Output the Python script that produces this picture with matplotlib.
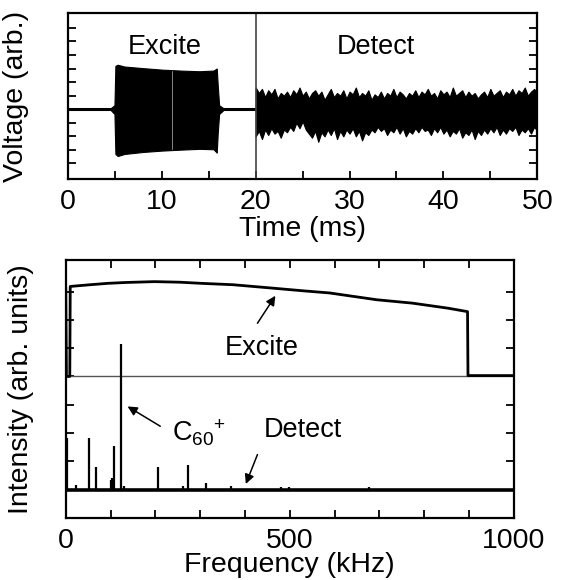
import matplotlib
matplotlib.use("Agg")
import matplotlib.pyplot as plt
import numpy as np

plt.rcParams["font.family"] = ["Liberation Sans", "DejaVu Sans"]
plt.rcParams["mathtext.fontset"] = "custom"
plt.rcParams["mathtext.rm"] = "Liberation Sans"
plt.rcParams["mathtext.it"] = "Liberation Sans:italic"
plt.rcParams["font.size"] = 20.5

# ---- top panel: time-domain signal (ms, arb.) ----
burst_t = [4.6, 4.95, 5.05, 5.3, 6.0, 8.0, 10.0, 12.0, 14.0, 15.5, 15.85, 15.95, 16.1, 16.5]
burst_up = [0.1, 0.3, 3.2, 3.28, 3.15, 3.03, 2.92, 2.85, 2.8, 2.85, 3.0, 1.8, 0.3, 0.1]
burst_lo = [-0.1, -0.35, -3.3, -3.45, -3.3, -3.15, -3.05, -2.98, -2.92, -2.95, -3.2, -1.8, -0.35, -0.1]
burst_gap = 11.1
switch_time = 20.0

detect_t = np.linspace(20, 50, 91)
detect_up = [1.6, 1.2, 1.5, 0.9, 1.4, 1.1, 1.5, 0.8, 1.2, 1.0,
             1.3, 0.9, 1.4, 1.1, 1.6, 1.0, 1.3, 0.8, 1.2, 1.4,
             1.0, 1.3, 0.7, 1.1, 1.5, 0.9, 1.2, 1.0, 1.4, 0.8,
             1.3, 1.1, 1.6, 0.9, 1.2, 1.0, 1.4, 0.7, 1.1, 0.9,
             1.3, 0.8, 1.2, 1.0, 1.5, 0.9, 1.3, 1.1, 0.8, 1.2,
             1.0, 1.4, 0.9, 1.3, 1.1, 1.5, 1.0, 1.2, 0.8, 1.4,
             1.1, 1.3, 0.9, 1.6, 1.0, 1.2, 1.4, 0.9, 1.3, 1.0,
             1.2, 0.8, 1.1, 1.3, 0.9, 1.5, 1.0, 1.2, 1.4, 0.9,
             1.3, 1.1, 1.5, 1.0, 1.4, 1.2, 1.6, 1.0, 1.3, 1.5,
             1.2]
detect_lo = [-2.0, -1.6, -2.2, -1.5, -1.9, -1.4, -1.8, -1.6, -2.1, -1.5,
             -1.7, -1.3, -1.6, -1.0, -1.4, -0.9, -1.5, -1.8, -2.1, -1.6,
             -2.4, -1.7, -2.0, -1.5, -1.9, -1.4, -2.2, -1.6, -2.0, -1.5,
             -1.8, -1.4, -2.0, -1.6, -2.3, -1.7, -1.9, -1.5, -1.7, -1.3,
             -1.6, -1.4, -1.9, -1.5, -1.7, -1.3, -1.8, -1.4, -2.0, -1.6,
             -1.8, -1.4, -1.7, -1.3, -1.6, -1.5, -1.9, -1.4, -1.7, -1.3,
             -1.8, -1.5, -2.0, -1.6, -1.8, -1.4, -2.1, -1.7, -1.9, -1.5,
             -2.2, -1.6, -1.9, -1.5, -1.8, -1.4, -1.7, -1.3, -1.9, -1.5,
             -1.8, -1.4, -1.6, -1.3, -1.9, -1.5, -1.7, -1.4, -1.8, -1.3,
             -1.6]

# ---- bottom panel: spectra (kHz, arb. units) ----
excite_f = [0, 1.5, 9, 10, 54, 94, 134, 198, 254, 302, 374, 462, 534, 589, 694, 774, 854, 897, 898, 1000]
excite_i = [8.1, 5.0, 5.0, 8.18, 8.24, 8.29, 8.32, 8.35, 8.33, 8.29, 8.24, 8.12, 8.02, 7.95, 7.71, 7.59, 7.41, 7.29, 5.03, 5.03]
excite_base = 5.0

detect_base = 1.0
peak_f = [3, 22, 51, 67, 100, 104, 107, 123, 130, 205, 261, 273, 314, 368, 480, 498, 676, 751]
peak_i = [2.83, 1.16, 2.83, 1.8, 1.35, 1.41, 2.55, 6.15, 1.12, 1.8, 1.12, 1.87, 1.24, 1.13, 1.1, 1.1, 1.08, 1.04]

fig = plt.figure(figsize=(5.62, 5.8), dpi=100)
ax1 = fig.add_axes([0.121, 0.691, 0.835, 0.286])
ax2 = fig.add_axes([0.117, 0.107, 0.797, 0.445])

for ax in (ax1, ax2):
    for sp in ax.spines.values():
        sp.set_linewidth(1.6)
    ax.tick_params(direction="in", which="both", length=6, width=1.3, pad=7)

# top panel
ax1.plot([0, burst_t[0]], [0, 0], color="black", lw=2.2)
ax1.plot([burst_t[-1], switch_time], [0, 0], color="black", lw=2.2)
ax1.fill_between(burst_t, burst_lo, burst_up, color="black", lw=0.8, edgecolor="black")
ax1.plot([burst_gap, burst_gap], [-2.9, 2.8], color="#bbbbbb", lw=0.5)
ax1.fill_between(detect_t, detect_lo, detect_up, color="black", lw=0.8, edgecolor="black")
ax1.axvline(switch_time, color="#444444", lw=1.2)
ax1.text(10.3, 4.6, "Excite", ha="center", va="center", fontsize=19.5)
ax1.text(32.8, 4.6, "Detect", ha="center", va="center", fontsize=19.5)
ax1.set_xlim(0, 50)
ax1.set_ylim(-5.16, 7.07)
ax1.set_xticks(range(0, 51, 10))
ax1.set_xticks(range(5, 50, 10), minor=True)
ax1.set_yticks(range(-4, 7))
ax1.set_yticklabels([])
ax1.tick_params(left=True, right=True, top=False, which="both")
ax1.set_xlabel("Time (ms)", labelpad=1)
ax1.set_ylabel("Voltage (arb.)")
ax1.yaxis.set_label_coords(-0.083, 0.5)

# bottom panel
ax2.axhline(excite_base, color="#555555", lw=1.0)
ax2.plot(excite_f, excite_i, color="black", lw=2.0)
ax2.axhline(detect_base, color="black", lw=2.6)
ax2.vlines(peak_f, detect_base, peak_i, color="black", lw=1.6)
arrow = dict(arrowstyle="-|>", color="black", lw=1.1, mutation_scale=14, shrinkA=0, shrinkB=0)
ax2.annotate("", xy=(468, 7.85), xytext=(428, 6.88), arrowprops=arrow)
ax2.text(438, 6.0, "Excite", ha="center", va="center", fontsize=19.5)
ax2.annotate("", xy=(138, 3.94), xytext=(211, 3.24), arrowprops=arrow)
ax2.text(238, 3.0, "C$_{60}$$^{+}$", ha="left", va="center", fontsize=19.5)
ax2.annotate("", xy=(402, 1.2), xytext=(428, 2.24), arrowprops=arrow)
ax2.text(530, 3.1, "Detect", ha="center", va="center", fontsize=19.5)
ax2.set_xlim(0, 1000)
ax2.set_ylim(0, 9.12)
ax2.set_xticks([0, 500, 1000])
ax2.set_xticks(range(100, 1000, 100), minor=True)
ax2.set_yticks(range(1, 9))
ax2.set_yticklabels([])
ax2.tick_params(left=True, right=True, top=True, which="both")
ax2.set_xlabel("Frequency (kHz)", labelpad=-1)
ax2.set_ylabel("Intensity (arb. units)")
ax2.yaxis.set_label_coords(-0.071, 0.5)

fig.savefig("out.png", dpi=100)
